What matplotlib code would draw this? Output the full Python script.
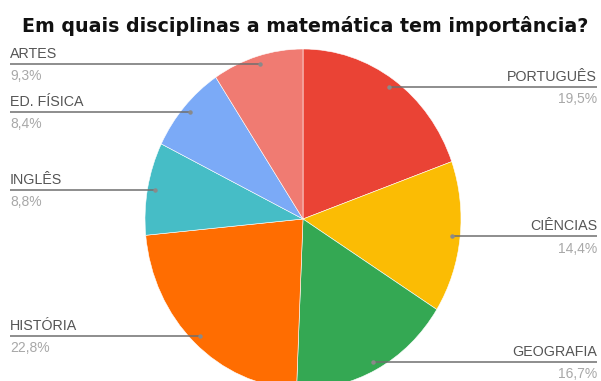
import numpy as np
import matplotlib.pyplot as plt

# data
labels = ['PORTUGUÊS', 'CIÊNCIAS', 'GEOGRAFIA', 'HISTÓRIA', 'INGLÊS', 'ED. FÍSICA', 'ARTES']
values = [19.5, 14.4, 16.7, 22.8, 8.8, 8.4, 9.3]
pct_labels = ['19,5%', '14,4%', '16,7%', '22,8%', '8,8%', '8,4%', '9,3%']
colors = ['#EA4335', '#FBBC04', '#34A853', '#FF6D01', '#46BDC6', '#7BAAF7', '#F07B72']

W, H = 601, 381
fig = plt.figure(figsize=(W / 100, H / 100), dpi=100)

# pie geometry in pixels (the source image is slightly stretched vertically)
cx, cy = 303, 219
rx, ry = 158, 170
ax = fig.add_axes([(cx - rx) / W, (H - cy - ry) / H, 2 * rx / W, 2 * ry / H])
ax.pie(values, colors=colors, startangle=90, counterclock=False,
       wedgeprops=dict(linewidth=0.4, edgecolor='white'))
ax.set_aspect('auto')
ax.set_xlim(-1, 1)
ax.set_ylim(-1, 1)
ax.axis('off')

def px_to_x(px):
    return (px - cx) / rx

left_x = px_to_x(10)
right_x = px_to_x(597)

# anchor points sit on each slice's middle angle, close to the rim
total = sum(values)
start = 0.0
for lab, val, pct in zip(labels, values, pct_labels):
    mid = np.deg2rad((start + val / 2) / total * 360)
    start += val
    ax_x = 0.95 * np.sin(mid)
    ax_y = 0.95 * np.cos(mid)
    if ax_x >= 0:
        xe, ha = right_x, 'right'
    else:
        xe, ha = left_x, 'left'
    ax.plot([ax_x, xe], [ax_y, ax_y], color='#6f6f6f', lw=1.1, clip_on=False,
            solid_capstyle='butt')
    ax.plot([ax_x], [ax_y], 'o', ms=2.2, color='#8a8a8a', clip_on=False)
    ax.text(xe, ax_y + 0.018, lab, ha=ha, va='bottom', fontsize=10.3,
            color='#555555', family='Liberation Sans', clip_on=False)
    ax.text(xe, ax_y - 0.03, pct, ha=ha, va='top', fontsize=10,
            color='#a8a8a8', family='Liberation Sans', clip_on=False)

fig.text(22 / W, 1 - 26 / H, 'Em quais disciplinas a matemática tem importância?',
         ha='left', va='center', fontsize=13.7, fontweight='bold',
         family='DejaVu Sans', color='#111111')

fig.savefig('out.png', dpi=100)
